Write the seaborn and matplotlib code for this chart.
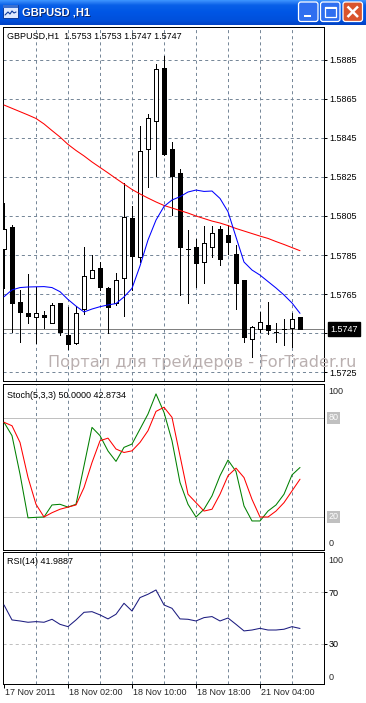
import numpy as np
import seaborn as sns
import matplotlib.pyplot as plt
from matplotlib.patches import Rectangle, FancyBboxPatch

opens = [1.57879, 1.57995, 1.57607, 1.57554, 1.57530, 1.57544, 1.57500, 1.57602, 1.57440, 1.57400,
         1.57572, 1.57730, 1.57782, 1.57679, 1.57602, 1.57730, 1.58038, 1.57838, 1.58392, 1.58539,
         1.58807, 1.58392, 1.58269, 1.57879, 1.57889, 1.57816, 1.57889, 1.57982, 1.57953, 1.57855,
         1.57722, 1.57418, 1.57469, 1.57490, 1.57457, 1.57470, 1.57477, 1.5753]
highs = [1.58115, 1.58004, 1.57671, 1.57753, 1.57687, 1.57563, 1.57605, 1.57602, 1.57585, 1.57589,
         1.57893, 1.57850, 1.57816, 1.57687, 1.57756, 1.58218, 1.58101, 1.58512, 1.58573, 1.58830,
         1.58871, 1.58431, 1.58290, 1.57978, 1.57930, 1.58000, 1.58000, 1.58000, 1.58004, 1.57901,
         1.57722, 1.57486, 1.57559, 1.57609, 1.57500, 1.57520, 1.57554, 1.5753]
lows = [1.57679, 1.57457, 1.57405, 1.57500, 1.57400, 1.57477, 1.57500, 1.57440, 1.57368, 1.57394,
        1.57547, 1.57730, 1.57671, 1.57448, 1.57594, 1.57537, 1.57671, 1.57816, 1.58200, 1.58255,
        1.58363, 1.58055, 1.57645, 1.57602, 1.57687, 1.57708, 1.57838, 1.57799, 1.57855, 1.57572,
        1.57405, 1.57329, 1.57457, 1.57445, 1.57405, 1.57389, 1.57380, 1.5747]
closes = [1.57982, 1.57602, 1.57559, 1.57539, 1.57551, 1.57530, 1.57594, 1.57457, 1.57392, 1.57551,
          1.57742, 1.57773, 1.57687, 1.57585, 1.57722, 1.58046, 1.57845, 1.58383, 1.58551, 1.58802,
          1.58368, 1.58257, 1.57889, 1.57879, 1.57807, 1.57910, 1.57961, 1.57828, 1.57918, 1.57708,
          1.57428, 1.57479, 1.57508, 1.57465, 1.57457, 1.57470, 1.57520, 1.5747]

ma_slow = [1.58619, 1.58602, 1.58585, 1.58568, 1.58550, 1.58522, 1.58488, 1.58455, 1.58417, 1.58386,
           1.58358, 1.58327, 1.58299, 1.58271, 1.58242, 1.58214, 1.58186, 1.58163, 1.58142, 1.58122,
           1.58104, 1.58091, 1.58078, 1.58065, 1.58050, 1.58037, 1.58024, 1.58014, 1.58001, 1.57986,
           1.57973, 1.57960, 1.57947, 1.57935, 1.57919, 1.57904, 1.57888, 1.57872]
ma_fast = [1.57636, 1.57671, 1.57683, 1.57686, 1.57687, 1.57688, 1.57683, 1.57662, 1.57622, 1.57588,
           1.57558, 1.57573, 1.57585, 1.57594, 1.57601, 1.57635, 1.57679, 1.57794, 1.57927, 1.58029,
           1.58099, 1.58132, 1.58149, 1.58173, 1.58183, 1.58176, 1.58178, 1.58140, 1.58072, 1.57942,
           1.57814, 1.57773, 1.57747, 1.57714, 1.57681, 1.57645, 1.57604, 1.57551]

stoch_main = [77.4, 69.3, 46.0, 19.5, 19.8, 20.0, 27.3, 27.7, 26.0, 27.7, 51.0, 74.3, 69.3, 60.0,
              53.7, 62.2, 64.2, 73.3, 82.4, 94.6, 83.4, 66.2, 40.9, 27.7, 20.0, 24.7, 32.8, 45.0,
              54.5, 47.6, 26.7, 17.6, 17.6, 23.6, 27.3, 33.8, 45.5, 50.0]
stoch_signal = [77.4, 75.3, 65.2, 44.0, 27.7, 20.0, 22.6, 24.7, 26.0, 27.3, 37.8, 53.0, 66.2, 67.8,
                61.2, 59.1, 60.1, 65.2, 72.3, 84.0, 86.5, 80.4, 57.1, 33.8, 28.7, 23.6, 24.7, 33.8,
                45.0, 49.6, 43.9, 30.7, 20.0, 20.0, 23.6, 28.7, 35.8, 42.9]
rsi = [60.2, 48.6, 47.8, 46.8, 47.3, 46.8, 49.1, 45.2, 43.4, 48.6, 54.5, 55.0, 52.5, 49.4, 53.0,
       61.5, 55.5, 65.9, 68.5, 71.8, 60.2, 57.6, 49.4, 49.1, 47.8, 50.4, 51.2, 47.8, 50.1, 45.2,
       40.1, 40.8, 42.1, 40.8, 40.8, 41.4, 43.4, 42.0]

price_ticks = [1.5885, 1.5865, 1.5845, 1.5825, 1.5805, 1.5785, 1.5765, 1.5745, 1.5725]
grid_bars = [4, 8, 12, 16, 20, 24, 28, 32, 36]
time_bars = [0, 8, 16, 24, 32]
time_labels = ["17 Nov 2011", "18 Nov 02:00", "18 Nov 10:00", "18 Nov 18:00", "21 Nov 04:00"]

# ---- стиль ----
sns.set_theme(style="white")
plt.rcParams['font.family'] = ['Liberation Sans', 'DejaVu Sans']
plt.rcParams['lines.scale_dashes'] = False

W, H = 366, 703
PX = 0.72          # 1 пиксель в пунктах
LW = 0.75          # линии индикаторов
FS = 6.5
GRID = '#778899'
DASH = (0, (2.2, 2.2))

fig = plt.figure(figsize=(W / 100, H / 100), dpi=100)
fig.patch.set_facecolor('white')


def px_axes(x0, y0, x1, y1):
    a = fig.add_axes([x0 / W, 1 - y1 / H, (x1 - x0) / W, (y1 - y0) / H])
    a.set_facecolor('white')
    for s in a.spines.values():
        s.set_color('black')
        s.set_linewidth(PX)
    a.set_xlim(-0.125, 40)
    return a


def vgrid(a):
    for b in grid_bars:
        a.axvline(b, color=GRID, lw=PX, ls=DASH, zorder=0)


bars = np.arange(len(closes))

# ========== основной график ==========
ax = px_axes(3, 27, 324, 381)
vgrid(ax)
for p in price_ticks:
    ax.axhline(p, color=GRID, lw=PX, ls=DASH, zorder=0)
ax.axhline(closes[-1], color='#808080', lw=PX, zorder=1)

o = np.array(opens); c = np.array(closes)
body_low = np.minimum(o, c)
body_h = np.abs(c - o)
fills = ['white' if cc >= oo else 'black' for oo, cc in zip(o, c)]
ax.vlines(bars, lows, highs, color='black', lw=PX, zorder=2, antialiased=False)
ax.bar(bars, body_h, bottom=body_low, width=0.5, color=fills, edgecolor='black',
       linewidth=PX, zorder=3, antialiased=False)

sns.lineplot(x=bars, y=ma_slow, ax=ax, color='red', linewidth=LW, zorder=4)
sns.lineplot(x=bars, y=ma_fast, ax=ax, color='blue', linewidth=LW, zorder=4)

ax.set_xlim(-0.125, 40)
ax.set_ylim(1.57204, 1.59019)
ax.set_xticks([])
ax.yaxis.tick_right()
ax.set_yticks(price_ticks)
ax.set_yticklabels([f"{p:.4f}" for p in price_ticks])
ax.tick_params(axis='y', right=True, length=2.2, width=PX, pad=1.6, labelsize=FS,
               colors='black', direction='out')
ax.set_xlabel(''); ax.set_ylabel('')

ax.annotate(f"GBPUSD,H1  {opens[-1]:.4f} {highs[-1]:.4f} {lows[-1]:.4f} {closes[-1]:.4f}",
            xy=(0, 1), xycoords='axes fraction', xytext=(3.1, -6.8), textcoords='offset points',
            ha='left', va='center', fontsize=FS, color='black')
ax.annotate(f"{closes[-1]:.4f}", xy=(1, closes[-1]), xycoords=('axes fraction', 'data'),
            xytext=(4.3, 0), textcoords='offset points', ha='left', va='center',
            fontsize=FS, color='white', annotation_clip=False, zorder=10,
            bbox=dict(boxstyle='square,pad=0.25', fc='black', ec='black'))

fig.text(48 / W, 1 - 367 / H, "Портал для трейдеров - ForTrader.ru", fontsize=11.6,
         family='DejaVu Sans', color='#bab0b0', ha='left', va='baseline')

# ========== Stochastic ==========
ax2 = px_axes(3, 384, 324, 550)
vgrid(ax2)
for lv in (80, 20):
    ax2.axhline(lv, color='#c0c0c0', lw=PX, zorder=1)
    ax2.annotate(str(lv), xy=(1, lv), xycoords=('axes fraction', 'data'), xytext=(3.2, 0),
                 textcoords='offset points', ha='left', va='center', fontsize=FS, color='white',
                 annotation_clip=False, bbox=dict(boxstyle='square,pad=0.12', fc='#c0c0c0', ec='none'))
sns.lineplot(x=bars, y=stoch_main, ax=ax2, color='#008000', linewidth=LW, zorder=3)
sns.lineplot(x=bars, y=stoch_signal, ax=ax2, color='red', linewidth=LW, zorder=3)
ax2.set_xlim(-0.125, 40)
ax2.set_ylim(0, 100.6)
ax2.set_xticks([]); ax2.set_yticks([])
ax2.set_xlabel(''); ax2.set_ylabel('')
ax2.annotate("Stoch(5,3,3) 50.0000 42.8734", xy=(0, 1), xycoords='axes fraction',
             xytext=(3.1, -8.3), textcoords='offset points', ha='left', va='center',
             fontsize=FS, color='black')
ax2.annotate("100", xy=(1, 1), xycoords='axes fraction', xytext=(3.2, -5.5),
             textcoords='offset points', ha='left', va='center', fontsize=FS, annotation_clip=False)
ax2.annotate("0", xy=(1, 0), xycoords='axes fraction', xytext=(3.2, 4.8),
             textcoords='offset points', ha='left', va='center', fontsize=FS, annotation_clip=False)

# ========== RSI ==========
ax3 = px_axes(3, 552, 324, 684)
vgrid(ax3)
for lv in (70, 30):
    ax3.axhline(lv, color='#c0c0c0', lw=PX, ls=DASH, zorder=1)
sns.lineplot(x=bars, y=rsi, ax=ax3, color='#1c1c80', linewidth=LW, zorder=3)
ax3.set_xlim(-0.125, 40)
ax3.set_ylim(-1, 101.2)
ax3.set_xlabel(''); ax3.set_ylabel('')
ax3.yaxis.tick_right()
ax3.set_yticks([70, 30])
ax3.set_yticklabels(["70", "30"])
ax3.tick_params(axis='y', right=True, length=2.2, width=PX, pad=1.2, labelsize=FS,
                colors='black', direction='out')
ax3.set_xticks(time_bars)
ax3.tick_params(axis='x', bottom=True, length=2.9, width=PX, direction='out',
                labelbottom=False, colors='black')
ax3.annotate("RSI(14) 41.9887", xy=(0, 1), xycoords='axes fraction', xytext=(3.1, -6.8),
             textcoords='offset points', ha='left', va='center', fontsize=FS, color='black')
ax3.annotate("100", xy=(1, 1), xycoords='axes fraction', xytext=(3.2, -5.8),
             textcoords='offset points', ha='left', va='center', fontsize=FS, annotation_clip=False)
ax3.annotate("0", xy=(1, 0), xycoords='axes fraction', xytext=(3.2, 4.6),
             textcoords='offset points', ha='left', va='center', fontsize=FS, annotation_clip=False)
for b, lab in zip(time_bars, time_labels):
    ax3.annotate(lab, xy=(b, 0), xycoords=('data', 'axes fraction'), xytext=(0.9, -5.8),
                 textcoords='offset points', ha='left', va='center', fontsize=FS,
                 annotation_clip=False)

# ========== заголовок окна (XP) ==========
tb = fig.add_axes([0, 1 - 25 / H, 1, 25 / H])
stops_y = [0, 2, 5, 12, 20, 25]
stops_c = np.array([[61, 149, 255], [43, 127, 245], [8, 96, 232],
                    [0, 86, 229], [0, 80, 220], [0, 66, 196]]) / 255
yy = np.linspace(0, 25, 60)
grad = np.stack([np.interp(yy, stops_y, stops_c[:, k]) for k in range(3)], axis=-1)[:, None, :]
tb.imshow(grad, extent=[0, W, 25, 0], aspect='auto', interpolation='bilinear')
tb.set_xlim(0, W); tb.set_ylim(25, 0); tb.axis('off')

tb.add_patch(Rectangle((3, 5), 15, 13, fc='#dfe9ff', ec='#0c3a9c', lw=0.7))
tb.add_patch(Rectangle((3, 5), 15, 3, fc='#3a6fd0', ec='none'))
tb.plot([5, 8, 10, 12, 14, 16], [15, 12, 14, 11, 13, 12], color='#0c3a9c', lw=0.8)
tb.text(23, 13.3, "GBPUSD ,H1", color='#0a246a', fontweight='bold', fontsize=8, va='center')
tb.text(22, 12.5, "GBPUSD ,H1", color='white', fontweight='bold', fontsize=8, va='center')

for x0, fc in [(298.5, '#2f6ff0'), (320.5, '#2f6ff0'), (343, '#d9542c')]:
    tb.add_patch(FancyBboxPatch((x0, 2), 19.5, 19.5, boxstyle='round,pad=0,rounding_size=2.5',
                                fc=fc, ec='white', lw=0.9))
tb.add_patch(Rectangle((303.5, 14.5), 7, 2.5, fc='white', ec='none'))
tb.add_patch(Rectangle((325, 6.5), 10.5, 10.5, fill=False, ec='white', lw=0.9))
tb.add_patch(Rectangle((325, 6.5), 10.5, 2.3, fc='white', ec='none'))
tb.plot([347.5, 358], [6.5, 17], color='white', lw=1.8, solid_capstyle='butt')
tb.plot([347.5, 358], [17, 6.5], color='white', lw=1.8, solid_capstyle='butt')

fig.savefig('out.png', dpi=100)
plt.close(fig)
